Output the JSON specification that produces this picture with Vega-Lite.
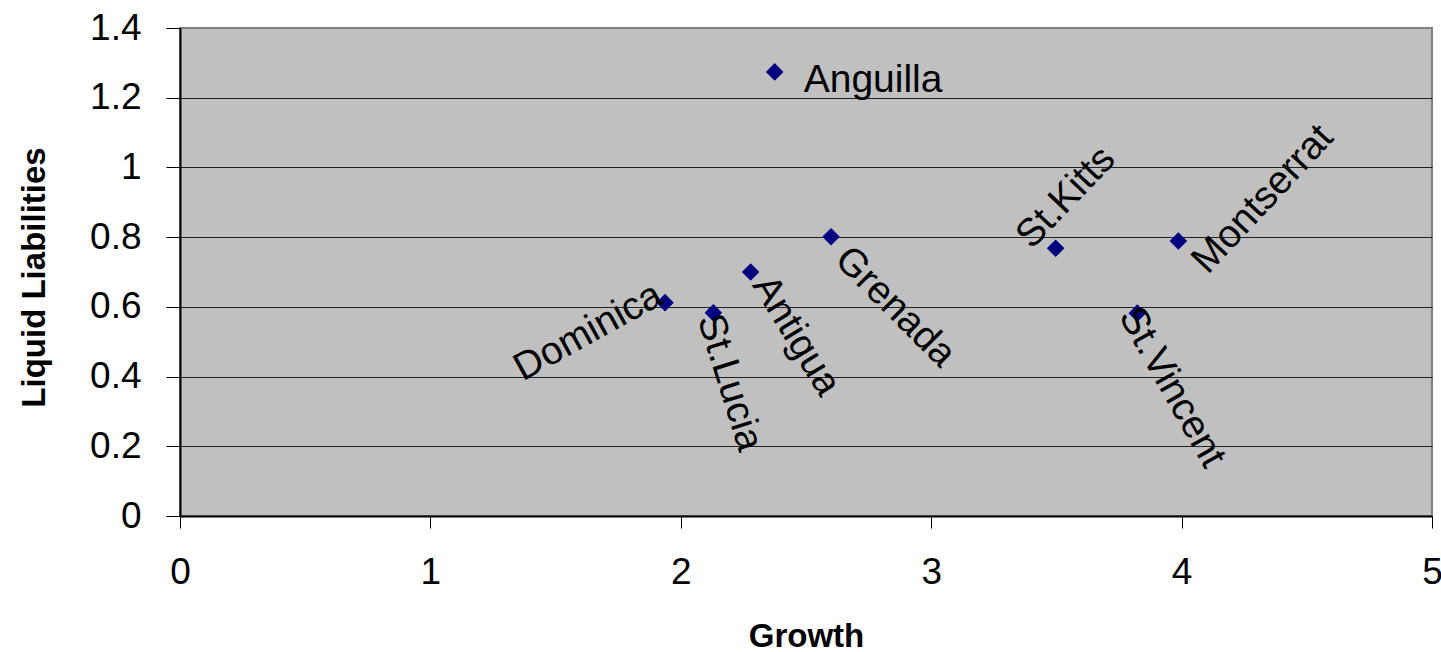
{
  "$schema": "https://vega.github.io/schema/vega-lite/v6.json",
  "autosize": {"type": "none"},
  "width": 1252,
  "height": 488,
  "padding": {"left": 180, "top": 28, "right": 9, "bottom": 136},
  "background": "white",
  "config": {
    "view": {"fill": "#C0C0C0", "stroke": "#808080", "strokeWidth": 2},
    "font": "Liberation Sans"
  },
  "data": {
    "values": [
      {"country": "Dominica", "growth": 1.937, "liabilities": 0.612},
      {"country": "St.Lucia", "growth": 2.130, "liabilities": 0.583},
      {"country": "Antigua", "growth": 2.279, "liabilities": 0.700},
      {"country": "Anguilla", "growth": 2.375, "liabilities": 1.274},
      {"country": "Grenada", "growth": 2.600, "liabilities": 0.801},
      {"country": "St.Kitts", "growth": 3.497, "liabilities": 0.768},
      {"country": "Montserrat", "growth": 3.987, "liabilities": 0.789},
      {"country": "St.Vincent", "growth": 3.823, "liabilities": 0.582}
    ]
  },
  "encoding": {
    "x": {
      "field": "growth", "type": "quantitative",
      "scale": {"domain": [0, 5], "nice": false, "zero": false},
      "axis": {
        "title": "Growth",
        "values": [0, 1, 2, 3, 4, 5],
        "format": "~g",
        "grid": false,
        "domainColor": "#000000", "domainWidth": 2,
        "tickColor": "#000000", "tickSize": 12, "tickWidth": 1,
        "labelFont": "Liberation Sans", "labelFontSize": 37, "labelColor": "#000000",
        "labelPadding": 26, "labelFlush": false, "labelOverlap": false,
        "titleFont": "Liberation Sans", "titleFontSize": 33, "titleFontWeight": "bold",
        "titleColor": "#000000",
        "titleX": 626, "titleY": 120, "titleAlign": "center", "titleBaseline": "middle"
      }
    },
    "y": {
      "field": "liabilities", "type": "quantitative",
      "scale": {"domain": [0, 1.4], "nice": false, "zero": false},
      "axis": {
        "title": "Liquid Liabilities",
        "values": [0, 0.2, 0.4, 0.6, 0.8, 1, 1.2, 1.4],
        "format": ".1~f",
        "grid": true,
        "gridColor": {"condition": {"test": "datum.value >= 1.39", "value": "#808080"}, "value": "#222222"},
        "gridWidth": 1,
        "domainColor": "#000000", "domainWidth": 2,
        "tickColor": "#000000", "tickSize": 14, "tickWidth": 1,
        "labelFont": "Liberation Sans", "labelFontSize": 37, "labelColor": "#000000",
        "labelPadding": 25, "labelFlush": false, "labelOverlap": false,
        "titleFont": "Liberation Sans", "titleFontSize": 33, "titleFontWeight": "bold",
        "titleColor": "#000000",
        "titleX": -146, "titleY": 249, "titleAlign": "center", "titleBaseline": "middle", "titleAngle": 270
      }
    }
  },
  "layer": [
    {
      "mark": {"type": "point", "shape": "diamond", "filled": true, "color": "#000080", "opacity": 1, "size": 310}
    },
    {
      "transform": [{"filter": "datum.country === 'Anguilla'"}],
      "mark": {"type": "text", "font": "Liberation Sans", "fontSize": 39, "color": "#000000", "align": "left", "baseline": "middle", "dx": 29, "dy": 8},
      "encoding": {"text": {"field": "country"}}
    },
    {
      "transform": [{"filter": "datum.country === 'Dominica'"}],
      "mark": {"type": "text", "font": "Liberation Sans", "fontSize": 39, "color": "#000000", "align": "right", "baseline": "middle", "angle": 331, "dx": 0, "dy": -12},
      "encoding": {"text": {"field": "country"}}
    },
    {
      "transform": [{"filter": "datum.country === 'St.Lucia'"}],
      "mark": {"type": "text", "font": "Liberation Sans", "fontSize": 39, "color": "#000000", "align": "left", "baseline": "middle", "angle": 72.6, "dx": 1, "dy": 5},
      "encoding": {"text": {"field": "country"}}
    },
    {
      "transform": [{"filter": "datum.country === 'Antigua'"}],
      "mark": {"type": "text", "font": "Liberation Sans", "fontSize": 39, "color": "#000000", "align": "left", "baseline": "middle", "angle": 58.6, "dx": 12, "dy": -6},
      "encoding": {"text": {"field": "country"}}
    },
    {
      "transform": [{"filter": "datum.country === 'Grenada'"}],
      "mark": {"type": "text", "font": "Liberation Sans", "fontSize": 39, "color": "#000000", "align": "left", "baseline": "middle", "angle": 45, "dx": 19, "dy": 4},
      "encoding": {"text": {"field": "country"}}
    },
    {
      "transform": [{"filter": "datum.country === 'St.Kitts'"}],
      "mark": {"type": "text", "font": "Liberation Sans", "fontSize": 39, "color": "#000000", "align": "left", "baseline": "middle", "angle": 313.7, "dx": -18, "dy": -28},
      "encoding": {"text": {"field": "country"}}
    },
    {
      "transform": [{"filter": "datum.country === 'Montserrat'"}],
      "mark": {"type": "text", "font": "Liberation Sans", "fontSize": 39, "color": "#000000", "align": "left", "baseline": "middle", "angle": 313, "dx": -5, "dy": 33},
      "encoding": {"text": {"field": "country"}}
    },
    {
      "transform": [{"filter": "datum.country === 'St.Vincent'"}],
      "mark": {"type": "text", "font": "Liberation Sans", "fontSize": 39, "color": "#000000", "align": "left", "baseline": "middle", "angle": 60.5, "dx": -7, "dy": 6},
      "encoding": {"text": {"field": "country"}}
    }
  ]
}
